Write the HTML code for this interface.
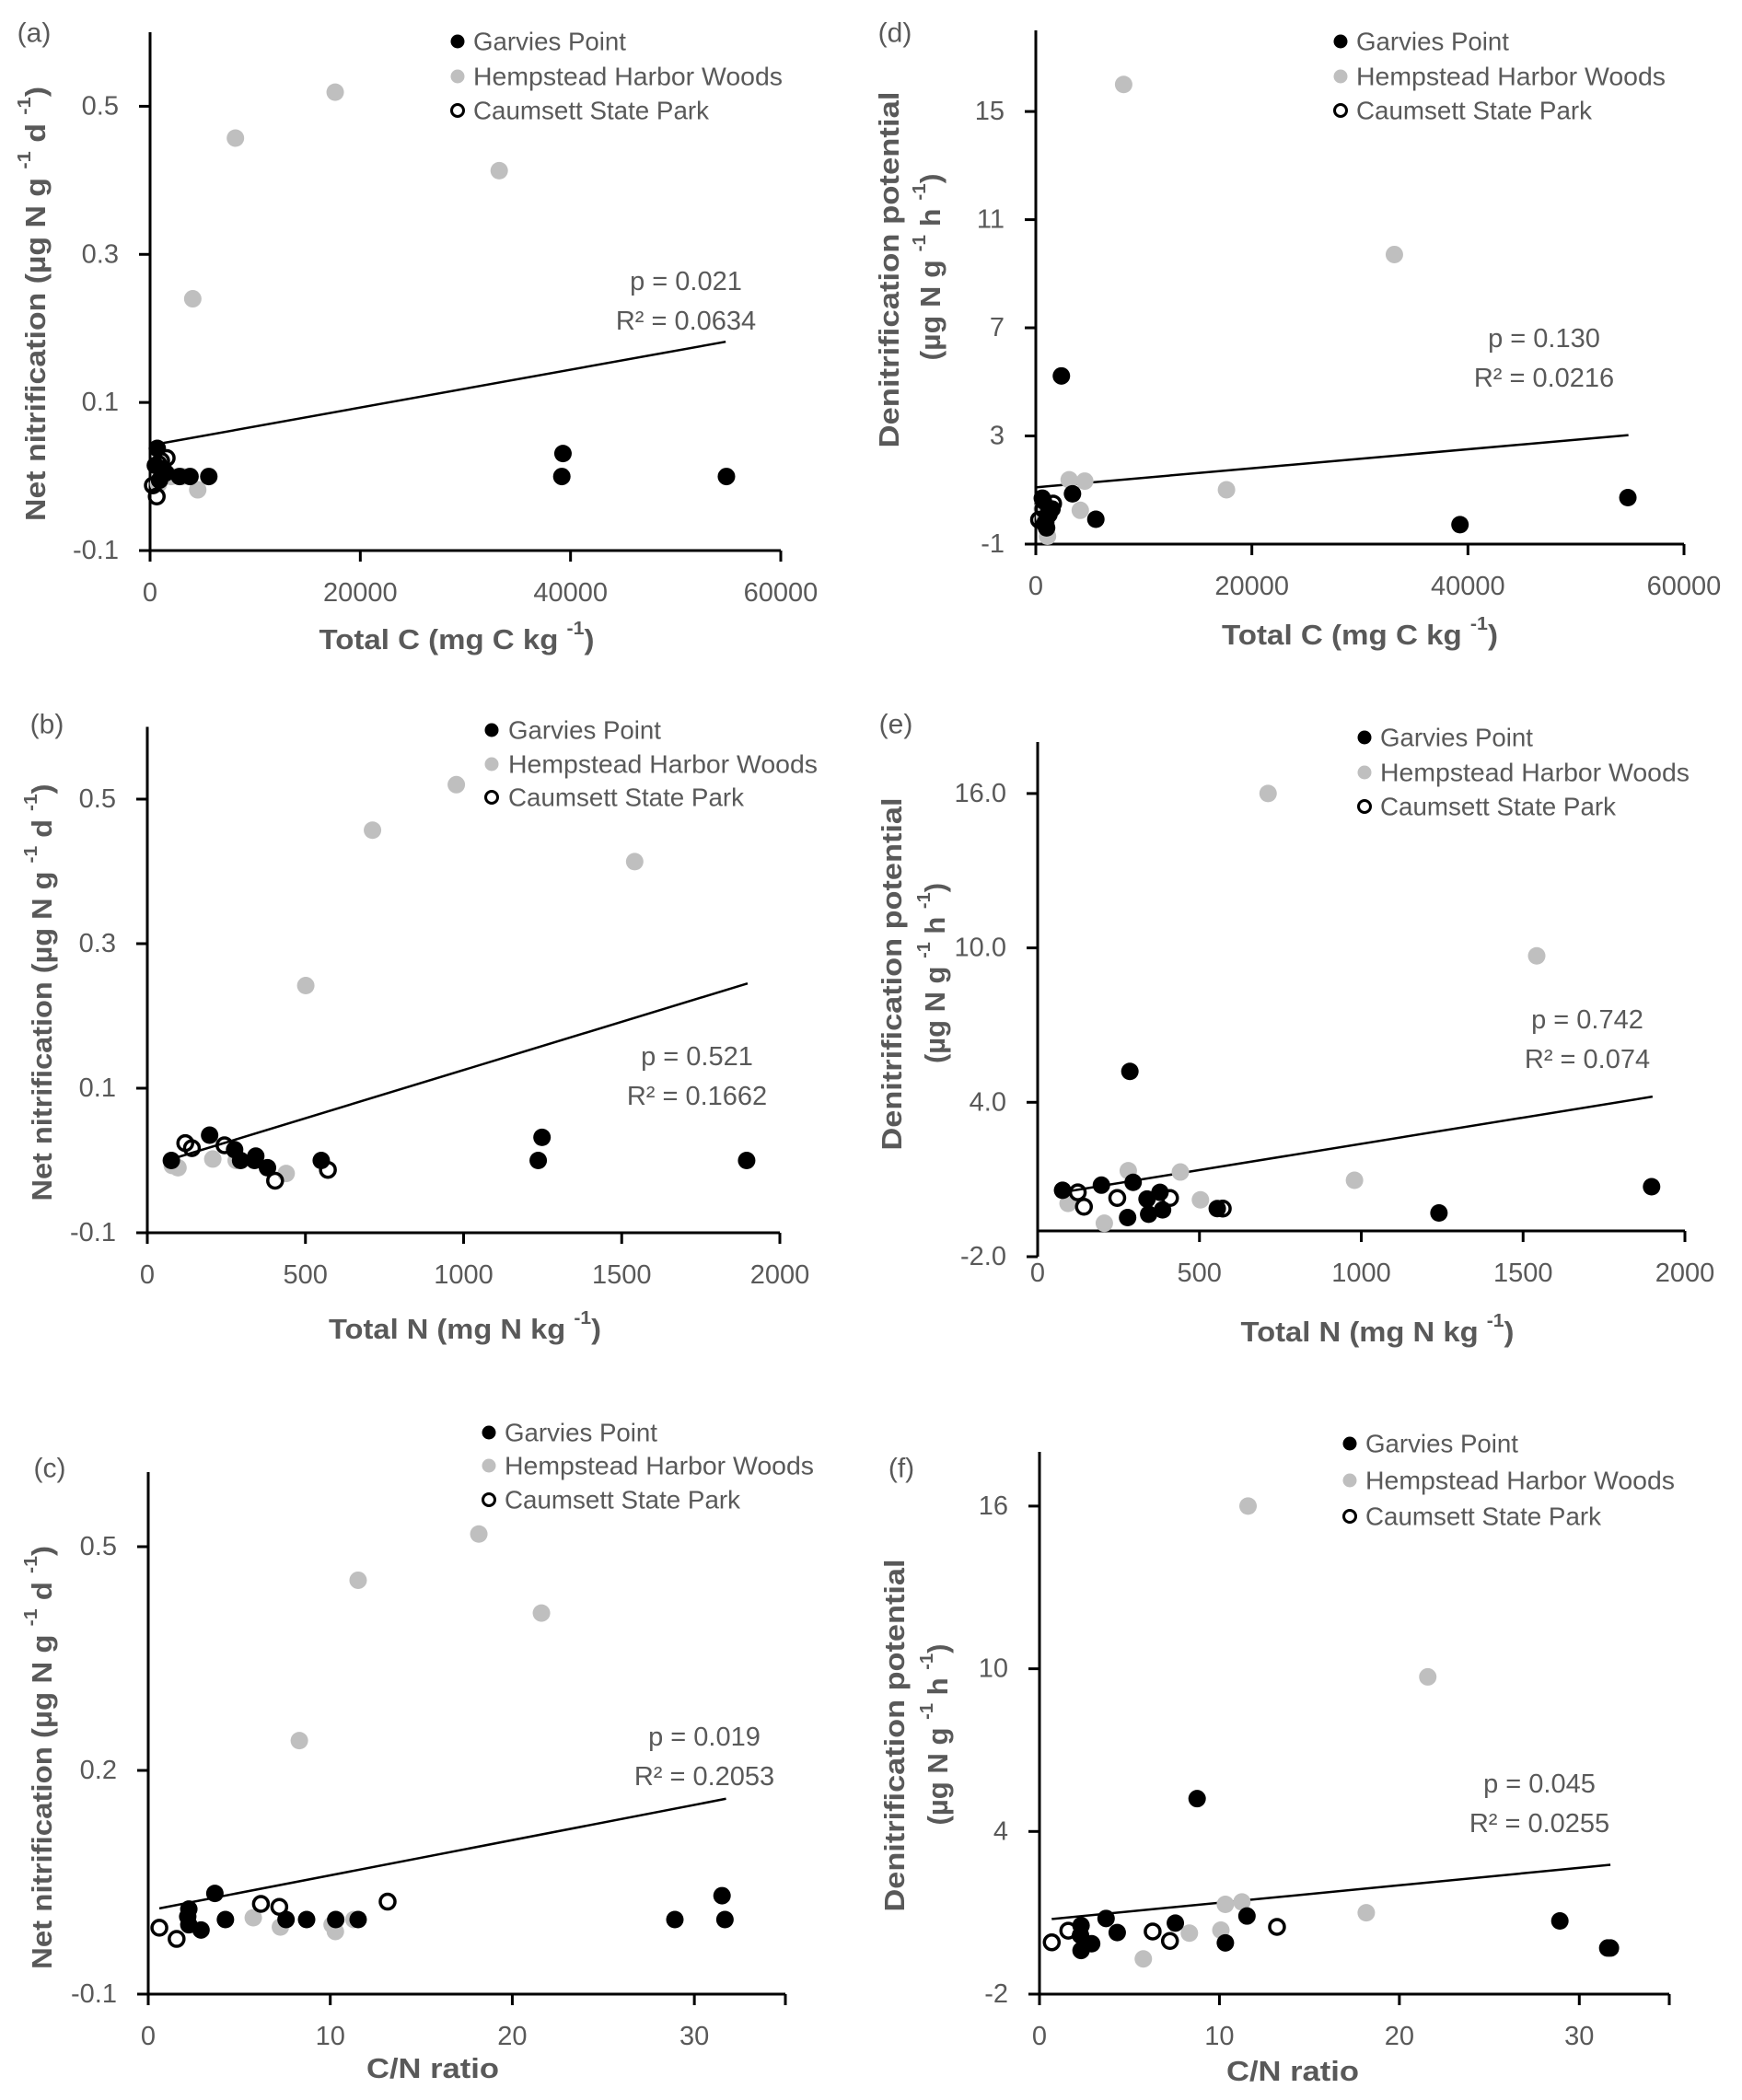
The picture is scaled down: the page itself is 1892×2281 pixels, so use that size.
<!DOCTYPE html>
<html><head><meta charset="utf-8"><title>Nitrification and denitrification scatter plots</title>
<style>
html,body{margin:0;padding:0;background:#fff;}
svg{display:block;}
text{font-family:"Liberation Sans",sans-serif;}
</style></head>
<body>
<svg id="fig" width="1892" height="2281" viewBox="0 0 1892 2281" xmlns="http://www.w3.org/2000/svg"></svg>
<script>
// ---------- Panel (a): Total C vs net nitrification ----------
const aGarviesX = [685, 500, 1500, 2800, 3800, 5588, 39280, 39170, 54830, 900, 1200];
const aGarviesY = [0.038, 0.015, 0.005, 0.0, 0.0, 0.0, 0.031, 0.0, 0.0, -0.005, 0.010];
const aHempX = [8119, 17610, 33214, 4060, 3058, 4534, 1200, 800, 2000];
const aHempY = [0.457, 0.519, 0.413, 0.240, 0.0, -0.018, 0.003, -0.010, 0.0];
const aCaumX = [264, 633, 1054, 1580, 800];
const aCaumY = [-0.012, -0.027, 0.021, 0.025, 0.017];
const aTrendX = [0, 54760];
const aTrendY = [0.042, 0.182];
const aXTicks = [0, 20000, 40000, 60000];
const aXTickLabels = ["0", "20000", "40000", "60000"];
const aYTicks = [-0.1, 0.1, 0.3, 0.5];
const aYTickLabels = ["-0.1", "0.1", "0.3", "0.5"];

// ---------- Panel (d): Total C vs denitrification ----------
const dGarviesX = [2367, 3396, 5558, 39264, 54805, 700, 900, 1200, 600, 1000, 1500];
const dGarviesY = [5.22, 0.86, -0.08, -0.28, 0.72, 0.6, -0.3, 0.2, 0.7, -0.4, 0.3];
const dHempX = [8131, 33192, 17650, 3088, 4528, 4117, 1081, 800, 600];
const dHempY = [16.0, 9.71, 1.01, 1.38, 1.33, 0.25, -0.71, 0.0, 0.3];
const dCaumX = [300, 700, 1200, 1600, 900];
const dCaumY = [-0.1, 0.3, 0.1, 0.5, -0.2];
const dTrendX = [0, 54856];
const dTrendY = [1.10, 3.03];
const dXTicks = [0, 20000, 40000, 60000];
const dXTickLabels = ["0", "20000", "40000", "60000"];
const dYTicks = [-1, 3, 7, 11, 15];
const dYTickLabels = ["-1", "3", "7", "11", "15"];

// ---------- Panel (b): Total N vs net nitrification ----------
const bGarviesX = [197, 76, 276, 295, 343, 339, 380, 550, 1248, 1236, 1895];
const bGarviesY = [0.035, 0.0, 0.015, 0.0, 0.006, 0.0, -0.010, 0.0, 0.032, 0.0, 0.0];
const bHempX = [977, 712, 1541, 501, 207, 281, 97, 79, 439];
const bHempY = [0.520, 0.457, 0.4135, 0.242, 0.002, 0.0, -0.010, -0.007, -0.018];
const bCaumX = [120, 141, 244, 404, 571];
const bCaumY = [0.024, 0.017, 0.021, -0.028, -0.013];
const bTrendX = [62, 1898];
const bTrendY = [0.0, 0.245];
const bXTicks = [0, 500, 1000, 1500, 2000];
const bXTickLabels = ["0", "500", "1000", "1500", "2000"];
const bYTicks = [-0.1, 0.1, 0.3, 0.5];
const bYTickLabels = ["-0.1", "0.1", "0.3", "0.5"];

// ---------- Panel (e): Total N vs denitrification ----------
const eGarviesX = [285, 197, 295, 77, 278, 338, 343, 378, 386, 555, 1240, 1897];
const eGarviesY = [5.20, 0.78, 0.89, 0.58, -0.48, 0.24, -0.35, 0.50, -0.18, -0.13, -0.30, 0.72];
const eHempX = [712, 1542, 979, 280, 441, 503, 206, 94];
const eHempY = [16.0, 9.69, 0.97, 1.34, 1.29, 0.21, -0.70, 0.07];
const eCaumX = [124, 143, 246, 409, 572];
const eCaumY = [0.50, -0.06, 0.28, 0.28, -0.13];
const eTrendX = [74, 1900];
const eTrendY = [0.50, 4.22];
const eXTicks = [0, 500, 1000, 1500, 2000];
const eXTickLabels = ["0", "500", "1000", "1500", "2000"];
const eYTicks = [-2, 4, 10, 16];
const eYTickLabels = ["-2.0", "4.0", "10.0", "16.0"];

// ---------- Panel (c): C/N ratio vs net nitrification ----------
const cGarviesX = [3.66, 2.23, 2.17, 2.23, 2.90, 4.24, 7.57, 8.70, 10.3, 11.53, 28.93, 31.52, 31.68];
const cGarviesY = [0.035, 0.014, 0.004, -0.007, -0.014, 0.0, 0.0, 0.0, 0.0, 0.0, 0.0, 0.032, 0.0];
const cHempX = [18.16, 11.53, 21.6, 8.30, 5.77, 7.26, 10.1, 10.28, 11.3];
const cHempY = [0.517, 0.455, 0.411, 0.240, 0.0025, -0.010, -0.007, -0.016, 0.0];
const cCaumX = [0.61, 1.56, 6.19, 7.2, 13.15];
const cCaumY = [-0.011, -0.026, 0.021, 0.017, 0.024];
const cTrendX = [0.61, 31.74];
const cTrendY = [0.015, 0.162];
const cXTicks = [0, 10, 20, 30];
const cXTickLabels = ["0", "10", "20", "30"];
const cYTicks = [-0.1, 0.2, 0.5];
const cYTickLabels = ["-0.1", "0.2", "0.5"];

// ---------- Panel (f): C/N ratio vs denitrification ----------
const fGarviesX = [8.76, 3.70, 2.31, 2.28, 2.31, 2.90, 4.32, 7.55, 11.53, 10.33, 28.92, 31.58, 31.73];
const fGarviesY = [5.21, 0.79, 0.53, 0.17, -0.39, -0.14, 0.27, 0.62, 0.88, -0.11, 0.70, -0.30, -0.30];
const fHempX = [11.59, 21.58, 18.16, 10.33, 11.25, 8.33, 10.08, 5.77];
const fHempY = [16.0, 9.70, 1.0, 1.31, 1.40, 0.25, 0.36, -0.70];
const fCaumX = [0.68, 1.60, 6.29, 7.25, 13.2];
const fCaumY = [-0.09, 0.34, 0.31, -0.04, 0.48];
const fTrendX = [0.68, 31.73];
const fTrendY = [0.77, 2.77];
const fXTicks = [0, 10, 20, 30];
const fXTickLabels = ["0", "10", "20", "30"];
const fYTicks = [-2, 4, 10, 16];
const fYTickLabels = ["-2", "4", "10", "16"];

const NS = "http://www.w3.org/2000/svg";
const svg = document.getElementById('fig');
function mk(tag, attrs, parent) {
  const e = document.createElementNS(NS, tag);
  for (const k in attrs) e.setAttribute(k, attrs[k]);
  (parent || svg).appendChild(e);
  return e;
}
function addTitleParts(t, parts) {
  parts.forEach(p => {
    const s = document.createElementNS(NS, 'tspan');
    if (p.sup) { s.setAttribute('baseline-shift', 'super'); s.setAttribute('font-size', '20'); }
    s.textContent = p.t;
    t.appendChild(s);
  });
}

function drawPanel(cfg) {
  const g = mk('g', {});
  
  
  const sx = v => cfg.xpx[0] + (v - cfg.xdom[0]) / (cfg.xdom[1] - cfg.xdom[0]) * (cfg.xpx[1] - cfg.xpx[0]);
  const sy = v => cfg.ypx[0] + (v - cfg.ydom[0]) / (cfg.ydom[1] - cfg.ydom[0]) * (cfg.ypx[1] - cfg.ypx[0]);
  const axY = sy(cfg.xCross);

  // panel letter
  const lt = mk('text', {x: cfg.letter[0], y: cfg.letter[1], 'font-size': 30, fill: '#595959', 'text-anchor': 'middle', 'dominant-baseline': 'central'}, g);
  lt.textContent = '(' + cfg.id + ')';
  
  

  // y axis
  const ya = mk('line', {x1: cfg.xpx[0], y1: cfg.ypx[0], x2: cfg.xpx[0], y2: cfg.ypx[1], stroke: '#000', 'stroke-width': 3}, g);
  
  
  cfg.yticks.forEach((v, i) => {
    const y = sy(v);
    const tk = mk('line', {x1: cfg.xpx[0] - 12, y1: y, x2: cfg.xpx[0], y2: y, stroke: '#000', 'stroke-width': 3}, g);
    
    
    const tl = mk('text', {x: cfg.xpx[0] - 34, y: y, 'font-size': 29, fill: '#595959', 'text-anchor': 'end', 'dominant-baseline': 'central'}, g);
    tl.textContent = cfg.ylabels[i];
    
    
  });
  // x axis
  const xa = mk('line', {x1: cfg.xpx[0] - 1.5, y1: axY, x2: cfg.xpx[1], y2: axY, stroke: '#000', 'stroke-width': 3}, g);
  
  
  cfg.xticks.concat(cfg.extraXTick ? [cfg.xdom[1]] : []).forEach(v => {
    const x = sx(v);
    const tk = mk('line', {x1: x, y1: axY, x2: x, y2: axY + 12, stroke: '#000', 'stroke-width': 3}, g);
    
    
  });
  cfg.xticks.forEach((v, i) => {
    const tl = mk('text', {x: sx(v), y: axY + 46, 'font-size': 29, fill: '#595959', 'text-anchor': 'middle', 'dominant-baseline': 'central'}, g);
    tl.textContent = cfg.xlabels[i];
    
    
  });

  // axis titles
  const xt = mk('text', {x: cfg.xTitle[0], y: cfg.xTitle[1], 'font-size': 31, 'font-weight': 'bold', fill: '#595959', 'text-anchor': 'middle', 'dominant-baseline': 'central', textLength: cfg.xTitle[2], lengthAdjust: 'spacingAndGlyphs'}, g);
  addTitleParts(xt, cfg.xTitleParts);
  
  
  cfg.yTitles.forEach(yt0 => {
    const yt = mk('text', {x: 0, y: 0, transform: 'translate(' + yt0.x + ',' + yt0.cy + ') rotate(-90)', 'font-size': 31, 'font-weight': 'bold', fill: '#595959', 'text-anchor': 'middle', 'dominant-baseline': 'central', textLength: yt0.len, lengthAdjust: 'spacingAndGlyphs'}, g);
    addTitleParts(yt, yt0.parts);
    
    
  });

  // trendline
  const tr = mk('line', {x1: sx(cfg.trendX[0]), y1: sy(cfg.trendY[0]), x2: sx(cfg.trendX[1]), y2: sy(cfg.trendY[1]), stroke: '#000', 'stroke-width': 2.5}, g);
  
  

  // points
  const series = [
    {xs: cfg.hx, ys: cfg.hy, fill: '#bfbfbf', stroke: 'none', name: 'hempstead-point'},
    {xs: cfg.gx, ys: cfg.gy, fill: '#000', stroke: 'none', name: 'garvies-point'},
    {xs: cfg.cx, ys: cfg.cy, fill: 'none', stroke: '#000', name: 'caumsett-point'}
  ];
  series.forEach(s => {
    s.xs.forEach((xv, i) => {
      const c = mk('circle', {cx: sx(xv), cy: sy(s.ys[i]), r: s.stroke === 'none' ? 9.5 : 8, fill: s.fill === 'none' ? 'none' : s.fill, stroke: s.stroke, 'stroke-width': 3.5}, g);
      
      
    });
  });

  // annotation
  const p = mk('text', {x: cfg.ann[0], y: cfg.ann[1], 'font-size': 29, fill: '#595959', 'text-anchor': 'middle'}, g);
  p.textContent = cfg.pText;
  
  
  const r = mk('text', {x: cfg.ann[0], y: cfg.ann[1] + 43, 'font-size': 29, fill: '#595959', 'text-anchor': 'middle'}, g);
  r.textContent = cfg.rText;
  
  

  // legend
  const lg = mk('g', {}, g);
  
  
  const entries = [
    {t: 'Garvies Point', fill: '#000', stroke: 'none', len: 166},
    {t: 'Hempstead Harbor Woods', fill: '#bfbfbf', stroke: 'none', len: 336},
    {t: 'Caumsett State Park', fill: 'none', stroke: '#000', len: 256}
  ];
  entries.forEach((en, i) => {
    const y = cfg.legend.ys[i];
    const m = mk('circle', {cx: cfg.legend.mx, cy: y, r: en.stroke === 'none' ? 7.5 : 6.5, fill: en.fill, stroke: en.stroke, 'stroke-width': 3}, lg);
    
    
    const t = mk('text', {x: cfg.legend.tx, y: y, 'font-size': 28, fill: '#595959', 'dominant-baseline': 'central', textLength: en.len, lengthAdjust: 'spacingAndGlyphs'}, lg);
    t.textContent = en.t;
    
    
  });
}

const nitParts = [{t: 'Net nitrification (µg N g '}, {t: '-1', sup: 1}, {t: ' d '}, {t: '-1', sup: 1}, {t: ')'}];
const denLine1 = [{t: 'Denitrification potential'}];
const denLine2 = [{t: '(µg N g '}, {t: '-1', sup: 1}, {t: ' h '}, {t: '-1', sup: 1}, {t: ')'}];
const tcParts = [{t: 'Total C (mg C kg '}, {t: '-1', sup: 1}, {t: ')'}];
const tnParts = [{t: 'Total N (mg N kg '}, {t: '-1', sup: 1}, {t: ')'}];
const cnParts = [{t: 'C/N ratio'}];

drawPanel({id: 'a', xpx: [163, 848], xdom: [0, 60000], ypx: [598, 35], ydom: [-0.1, 0.6], xCross: -0.1,
  xticks: aXTicks, xlabels: aXTickLabels, yticks: aYTicks, ylabels: aYTickLabels,
  gx: aGarviesX, gy: aGarviesY, hx: aHempX, hy: aHempY, cx: aCaumX, cy: aCaumY, trendX: aTrendX, trendY: aTrendY,
  letter: [37, 36], xTitle: [496, 694, 299, 0], xTitleParts: tcParts,
  yTitles: [{x: 38, cy: 330, len: 472, parts: nitParts}],
  ann: [745, 315], pText: 'p = 0.021', rText: 'R² = 0.0634',
  legend: {mx: 497, tx: 514, ys: [45, 83, 120]}});

drawPanel({id: 'd', xpx: [1125, 1829], xdom: [0, 60000], ypx: [591, 33], ydom: [-1, 18], xCross: -1,
  xticks: dXTicks, xlabels: dXTickLabels, yticks: dYTicks, ylabels: dYTickLabels,
  gx: dGarviesX, gy: dGarviesY, hx: dHempX, hy: dHempY, cx: dCaumX, cy: dCaumY, trendX: dTrendX, trendY: dTrendY,
  letter: [972, 36], xTitle: [1477, 689, 300], xTitleParts: tcParts,
  yTitles: [{x: 965, cy: 293, len: 387, parts: denLine1}, {x: 1010, cy: 290, len: 203, parts: denLine2}],
  ann: [1677, 377], pText: 'p = 0.130', rText: 'R² = 0.0216',
  legend: {mx: 1456, tx: 1473, ys: [45, 83, 120]}});

drawPanel({id: 'b', xpx: [160, 847], xdom: [0, 2000], ypx: [1339, 789.5], ydom: [-0.1, 0.6], xCross: -0.1,
  xticks: bXTicks, xlabels: bXTickLabels, yticks: bYTicks, ylabels: bYTickLabels,
  gx: bGarviesX, gy: bGarviesY, hx: bHempX, hy: bHempY, cx: bCaumX, cy: bCaumY, trendX: bTrendX, trendY: bTrendY,
  letter: [51, 787], xTitle: [505, 1443, 296], xTitleParts: tnParts,
  yTitles: [{x: 45, cy: 1078, len: 453, parts: nitParts}],
  ann: [757, 1157], pText: 'p = 0.521', rText: 'R² = 0.1662',
  legend: {mx: 534, tx: 552, ys: [793, 830, 866]}});

drawPanel({id: 'e', xpx: [1127, 1830], xdom: [0, 2000], ypx: [1365, 806], ydom: [-2, 18], xCross: -1,
  xticks: eXTicks, xlabels: eXTickLabels, yticks: eYTicks, ylabels: eYTickLabels,
  gx: eGarviesX, gy: eGarviesY, hx: eHempX, hy: eHempY, cx: eCaumX, cy: eCaumY, trendX: eTrendX, trendY: eTrendY,
  letter: [973, 787], xTitle: [1496, 1446, 297], xTitleParts: tnParts,
  yTitles: [{x: 968, cy: 1058, len: 383, parts: denLine1}, {x: 1015, cy: 1057, len: 196, parts: denLine2}],
  ann: [1724, 1117], pText: 'p = 0.742', rText: 'R² = 0.074',
  legend: {mx: 1482, tx: 1499, ys: [801, 839, 876]}});

drawPanel({id: 'c', xpx: [161, 853], xdom: [0, 35], ypx: [2166, 1599], ydom: [-0.1, 0.6], xCross: -0.1, extraXTick: true,
  xticks: cXTicks, xlabels: cXTickLabels, yticks: cYTicks, ylabels: cYTickLabels,
  gx: cGarviesX, gy: cGarviesY, hx: cHempX, hy: cHempY, cx: cCaumX, cy: cCaumY, trendX: cTrendX, trendY: cTrendY,
  letter: [54, 1595], xTitle: [470, 2246, 144], xTitleParts: cnParts,
  yTitles: [{x: 45, cy: 1909, len: 460, parts: nitParts}],
  ann: [765, 1896], pText: 'p = 0.019', rText: 'R² = 0.2053',
  legend: {mx: 531, tx: 548, ys: [1556, 1592, 1629]}});

drawPanel({id: 'f', xpx: [1129, 1813], xdom: [0, 35], ypx: [2166, 1577], ydom: [-2, 18], xCross: -2, extraXTick: true,
  xticks: fXTicks, xlabels: fXTickLabels, yticks: fYTicks, ylabels: fYTickLabels,
  gx: fGarviesX, gy: fGarviesY, hx: fHempX, hy: fHempY, cx: fCaumX, cy: fCaumY, trendX: fTrendX, trendY: fTrendY,
  letter: [979, 1595], xTitle: [1404, 2249, 144], xTitleParts: cnParts,
  yTitles: [{x: 971, cy: 1885, len: 383, parts: denLine1}, {x: 1018, cy: 1884, len: 197, parts: denLine2}],
  ann: [1672, 1947], pText: 'p = 0.045', rText: 'R² = 0.0255',
  legend: {mx: 1466, tx: 1483, ys: [1568, 1608, 1647]}});
</script>
</body></html>
